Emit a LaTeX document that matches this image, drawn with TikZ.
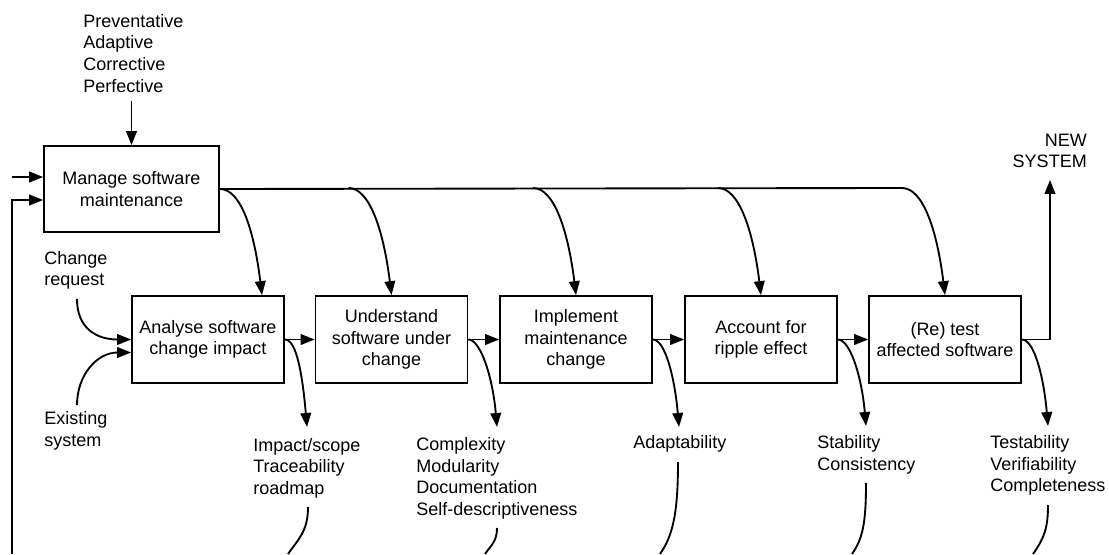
\documentclass[tikz,border=0pt]{standalone}
\usepackage{fontspec}
\setmainfont{Liberation Sans}
\usetikzlibrary{arrows.meta}

\begin{document}
\begin{tikzpicture}[x=0.75pt, y=0.75pt,
  every node/.style={font=\fontsize{13.5pt}{16.2pt}\selectfont},
  process/.style={draw, line width=1.3pt, align=center, minimum width=114pt,
    minimum height=65.25pt, inner sep=2pt},
  label/.style={align=left, inner sep=0pt, anchor=west},
  link/.style={line width=1.4pt},
  arr/.style={link, -{Triangle[length=10.5pt, width=8pt]}},
  feed/.style={arr, out=0, in=97, out distance=16pt, in distance=48pt},
  yield/.style={arr, out=0, in=95, out distance=9pt, in distance=38pt},
  tail/.style={link, out=-90, in=55, out distance=18pt, in distance=14pt}]

\useasboundingbox (0,0) rectangle (1109,554);

% management activity and its inputs
\node[process, minimum width=131.25pt, minimum height=64.5pt] (manage) at (131.5,365)
  {Manage software\\maintenance};
\node[label] (kinds) at (83,500.75) {Preventative\\Adaptive\\Corrective\\Perfective};
\coordinate (kindsout) at (131.5,453);
\draw[arr] (kindsout) -- (manage);

\coordinate (extin) at (12,377);
\draw[arr] (extin) -- (extin -| manage.west);
\coordinate (loopend) at (12,0);
\draw[arr] (loopend) |- ([yshift=-8.25pt]manage.west);

% the five maintenance steps
\node[process] (analyse)    at (208,214.5)   {Analyse software\\change impact};
\node[process] (understand) at (391.5,214.5) {Understand\\software under\\change};
\node[process] (implement)  at (576,214.5)   {Implement\\maintenance\\change};
\node[process] (account)    at (761,214.5)   {Account for\\ripple effect};
\node[process] (retest)     at (945,214.5)   {(Re) test\\affected software};

\draw[arr] (analyse) -- (understand);
\draw[arr] (understand) -- (implement);
\draw[arr] (implement) -- (account);
\draw[arr] (account) -- (retest);

% control line from management to every step
\coordinate (c2) at (348.5,366);
\coordinate (c3) at (533,366);
\coordinate (c4) at (718,366);
\coordinate (c5) at (902,366);
\draw[link] (manage.east) -- (c5);
\draw[feed] (manage.east) to ([xshift=40.5pt]analyse.north);
\draw[feed] (c2) to (understand.north);
\draw[feed] (c3) to (implement.north);
\draw[feed] (c4) to (account.north);
\draw[feed] (c5) to (retest.north);

% inputs of the analysis step
\node[label] (request)  at (44,283.5) {Change\\request};
\node[label] (existing) at (44,123)   {Existing\\system};
\coordinate (reqout) at (77,255);
\coordinate (exout)  at (77,149);
\draw[arr] (reqout) to[out=-90, in=180, out distance=22pt, in distance=26pt] (analyse.west);
\draw[arr] (exout) to[out=90, in=180, out distance=22pt, in distance=26pt]
  ([yshift=-9.75pt]analyse.west);

% output of the last step
\coordinate (newout) at (1050,374);
\draw[arr] (retest.east) -| (newout);
\node[align=right, inner sep=0pt, anchor=east] (newsys) at (1087,403) {NEW\\SYSTEM};

% quality attributes produced by each step
\node[label] (q1) at (253,86)   {Impact/scope\\Traceability\\roadmap};
\node[label] (q2) at (416,75.5) {Complexity\\Modularity\\Documentation\\Self-descriptiveness};
\node[label] (q3) at (633,110)  {Adaptability};
\node[label] (q4) at (817,99)   {Stability\\Consistency};
\node[label] (q5) at (990,88.5) {Testability\\Verifiability\\Completeness};

\coordinate (a1) at (307,127);
\coordinate (a2) at (497,127);
\coordinate (a3) at (679,127);
\coordinate (a4) at (866,128);
\coordinate (a5) at (1048,128);
\draw[yield] (analyse.east)    to (a1);
\draw[yield] (understand.east) to (a2);
\draw[yield] (implement.east)  to (a3);
\draw[yield] (account.east)    to (a4);
\draw[yield] (retest.east)     to (a5);

% feedback branches leaving the attribute lists
\coordinate (t1) at (308,47);   \coordinate (b1) at (288,0);
\coordinate (t2) at (497,26);   \coordinate (b2) at (485,0);
\coordinate (t3) at (678,92);   \coordinate (b3) at (660,0);
\coordinate (t4) at (866,71);   \coordinate (b4) at (852,0);
\coordinate (t5) at (1048,49);  \coordinate (b5) at (1033,0);
\draw[tail] (t1) to (b1);
\draw[tail, out distance=10pt, in distance=8pt] (t2) to (b2);
\draw[tail, out distance=40pt, in distance=16pt] (t3) to (b3);
\draw[tail, out distance=30pt, in distance=14pt] (t4) to (b4);
\draw[tail] (t5) to (b5);
\end{tikzpicture}
\end{document}
